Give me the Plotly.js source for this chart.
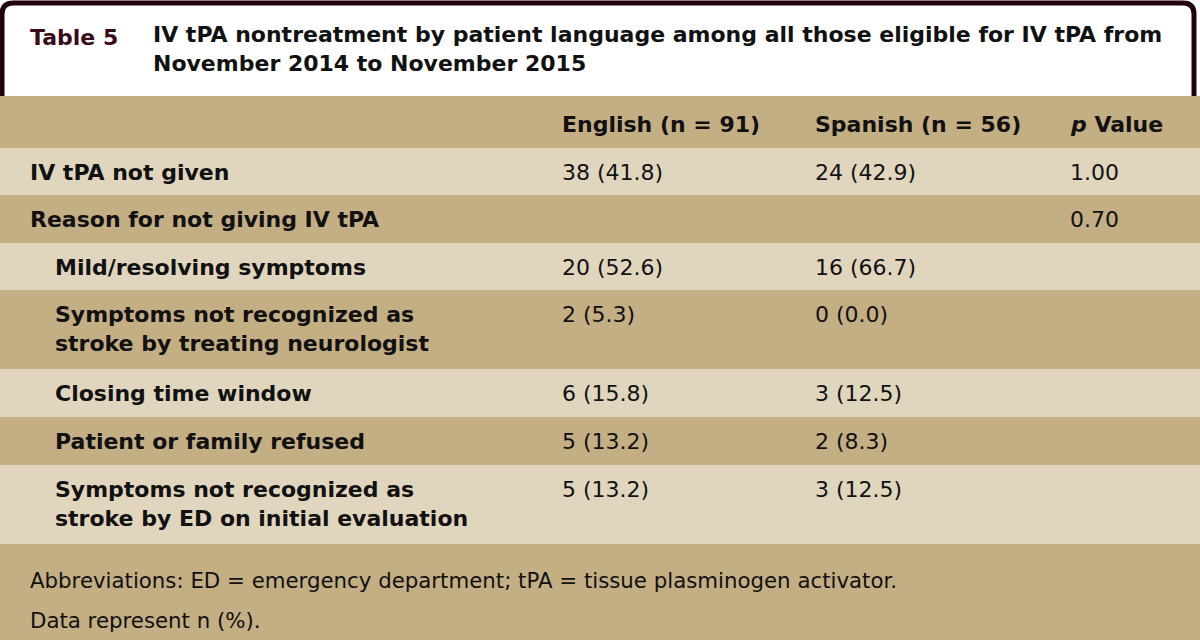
<!DOCTYPE html>
<html>
<head>
<meta charset="utf-8">
<script src="https://cdn.plot.ly/plotly-3.0.1.min.js"></script>
<style>html,body{margin:0;padding:0;background:#fff;}#chart{width:1200px;height:640px;}</style>
</head>
<body>
<div id="chart"></div>
<script>
// ---- data ----
const tableLabel = "Table 5";
const titleLines = ["IV tPA nontreatment by patient language among all those eligible for IV tPA from", "November 2014 to November 2015"];
const columnHeaders = ["", "English (n = 91)", "Spanish (n = 56)", "<i>p</i> Value"];
const rowLabels = [
  "IV tPA not given",
  "Reason for not giving IV tPA",
  "Mild/resolving symptoms",
  "Symptoms not recognized as<br>stroke by treating neurologist",
  "Closing time window",
  "Patient or family refused",
  "Symptoms not recognized as<br>stroke by ED on initial evaluation"
];
const rowIndent = [0, 0, 1, 1, 1, 1, 1];
const englishValues = ["38 (41.8)", "", "20 (52.6)", "2 (5.3)", "6 (15.8)", "5 (13.2)", "5 (13.2)"];
const spanishValues = ["24 (42.9)", "", "16 (66.7)", "0 (0.0)", "3 (12.5)", "2 (8.3)", "3 (12.5)"];
const pValues = ["1.00", "0.70", "", "", "", "", ""];
const footnotes = ["Abbreviations: ED = emergency department; tPA = tissue plasminogen activator.", "Data represent n (%)."];

// ---- layout geometry (pixels) ----
const W = 1200, H = 640;
const TAN = "#c4ae84", LIGHT = "#e0d6be", DARK = "#22000e";
const headerTop = 96, headerH = 52;
const rowHeights = [47, 48, 47, 79, 48, 48, 79];
const colX = [28, 560, 813, 1068];
const indentX = 53;
const FONT = "DejaVu Sans, Verdana, sans-serif";
const bodySize = 22, lineGap = 29;

const shapes = [];
const annotations = [];
function rect(y0, y1, color) {
  shapes.push({type: "rect", xref: "x", yref: "y", x0: 0, x1: W, y0: y0, y1: y1, fillcolor: color, line: {width: 0}, layer: "below"});
}
function txt(x, y, text, opts) {
  annotations.push(Object.assign({xref: "x", yref: "y", x: x, y: y, text: text, showarrow: false,
    xanchor: "left", yanchor: "middle", align: "left", font: {family: FONT, size: bodySize, color: "#111"}}, opts || {}));
}

// header box border
shapes.push({type: "path", xref: "x", yref: "y",
  path: "M 2,96 L 2,14 Q 2,3 13,3 L 1183,3 Q 1194,3 1194,14 L 1194,96",
  line: {color: DARK, width: 5}, fillcolor: "rgba(0,0,0,0)"});

// title
txt(colX[0], 37, "<b>" + tableLabel + "</b>", {font: {family: FONT, size: 22, color: "#3a0a1c"}});
txt(151, 49, "<b>" + titleLines.join("<br>") + "</b>", {font: {family: FONT, size: 22, color: "#111"}});

// column header row
rect(headerTop, headerTop + headerH, TAN);
columnHeaders.forEach((h, i) => { if (h) txt(colX[i], headerTop + 28, "<b>" + h + "</b>"); });

// body rows
let y = headerTop + headerH;
rowLabels.forEach((label, r) => {
  const h = rowHeights[r];
  rect(y, y + h, r % 2 === 0 ? LIGHT : TAN);
  const lines = label.split("<br>");
  const x = rowIndent[r] ? indentX : colX[0];
  lines.forEach((ln, k) => txt(x, y + 24 + k * lineGap, "<b>" + ln + "</b>"));
  [englishValues[r], spanishValues[r], pValues[r]].forEach((v, c) => { if (v) txt(colX[c + 1], y + 24, v); });
  y += h;
});

// footnotes
rect(y, H, TAN);
footnotes.forEach((f, i) => txt(colX[0], y + 36 + i * 40, f, {font: {family: FONT, size: 21.3, color: "#111"}}));

const layout = {
  width: W, height: H,
  margin: {l: 0, r: 0, t: 0, b: 0},
  paper_bgcolor: "#ffffff", plot_bgcolor: "#ffffff",
  xaxis: {range: [0, W], visible: false, fixedrange: true},
  yaxis: {range: [H, 0], visible: false, fixedrange: true},
  shapes: shapes, annotations: annotations, showlegend: false
};
Plotly.newPlot("chart", [{type: "scatter", x: [], y: [], mode: "markers", hoverinfo: "skip"}], layout, {staticPlot: true, displayModeBar: false});
</script>
</body>
</html>
